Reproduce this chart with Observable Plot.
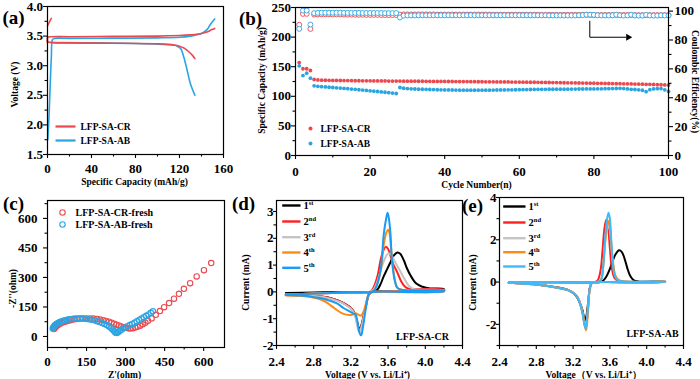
<!DOCTYPE html>
<html><head><meta charset="utf-8">
<script src="https://cdn.jsdelivr.net/npm/d3@7"></script>
<script src="https://cdn.jsdelivr.net/npm/@observablehq/plot@0.6"></script>
<style>
html,body{margin:0;padding:0;background:#fff;overflow:hidden;}
#fig{position:relative;width:700px;height:379px;background:#fff;}
#fig svg{position:absolute;left:0;top:0;}
</style></head><body><div id="fig"></div>
<script>
// ---------- DATA ----------
// (a) charge/discharge profiles
const crChargeCap = [0,0.3,4,20,60,100,120,130,136,140,145,149.5,152];
const crChargeV   = [3.38,3.48,3.49,3.49,3.495,3.50,3.51,3.52,3.53,3.545,3.57,3.61,3.63];
const crDischCap  = [0,0.5,4,20,60,100,110,115,120,124,127,130,132,134];
const crDischV    = [3.49,3.40,3.39,3.385,3.38,3.37,3.36,3.35,3.33,3.30,3.26,3.21,3.17,3.12];
const crTailCap   = [0,1.5,3.5];
const crTailV     = [3.67,3.73,3.80];
const abChargeCap = [0.3,1.5,2.5,3.5,4.5,6,20,60,100,120,130,136,140,145,148.5,152];
const abChargeV   = [1.75,2.2,2.7,3.15,3.44,3.46,3.462,3.465,3.47,3.48,3.50,3.525,3.545,3.61,3.71,3.79];
const abDischCap  = [0,2,10,40,80,100,110,115,118,121,124,127,130,134];
const abDischV    = [3.40,3.395,3.39,3.385,3.375,3.365,3.355,3.345,3.33,3.29,3.14,2.92,2.69,2.5];

// (b) cycling: capacity (mAh/g) and coulombic efficiency (%)
const cycles = d3.range(1, 101);
const capCR = [157,146.5,146.5,143.6,128.4,127.6,127.3,127.1,127.0,126.9,
126.8,126.7,126.6,126.5,126.4,126.3,126.3,126.2,126.1,126.1,
126.0,126.0,125.9,125.9,125.8,125.8,125.7,125.7,125.6,125.6,
125.5,125.5,125.4,125.4,125.3,125.3,125.2,125.2,125.1,125.1,
125.0,125.0,124.9,124.9,124.8,124.8,124.7,124.7,124.6,124.6,
124.5,124.5,124.4,124.3,124.3,124.2,124.2,124.1,124.0,124.0,
123.9,123.8,123.7,123.7,123.6,123.5,123.4,123.3,123.2,123.1,
123.0,122.9,122.8,122.7,122.6,122.5,122.4,122.3,122.2,122.1,
122.0,121.9,121.8,121.6,121.5,121.4,121.3,121.1,121.0,120.9,
120.7,120.6,120.5,120.3,120.2,120.0,119.7,119.5,119.2,119.0];
const capAB = [151.5,135,139,130.6,117.7,116.8,116.3,115.8,115.3,114.9,
114.4,113.9,113.3,112.8,112.2,111.7,111.1,110.5,110.0,109.3,
108.7,108.1,107.4,106.8,106.1,105.4,104.7,114.9,113.6,113.0,
112.6,112.3,112.1,111.9,111.7,111.5,111.3,111.1,110.9,110.8,
110.7,110.6,110.5,110.4,110.4,110.3,110.3,110.3,110.3,110.3,
110.3,110.4,110.5,110.6,110.7,110.8,110.9,111.0,111.1,111.2,
111.3,111.4,111.5,111.6,111.7,111.8,111.8,111.9,111.9,112.0,
112.0,112.1,112.1,112.2,112.2,112.3,112.3,112.4,112.4,112.5,
112.6,112.7,112.8,112.9,113.0,113.2,113.5,113.0,112.4,111.8,
111.5,111.0,110.2,107.8,111.2,112.4,112.9,113.0,111.0,108.2];
const ceCR = [90.5,98.1,98.1,87.7,97.6,97.7,97.8,97.8,97.8,97.7,
97.7,97.7,97.6,97.6,97.6,97.5,97.5,97.5,97.4,97.4,
97.4,97.4,97.3,97.3,97.3,97.3,97.3,97.6,97.7,97.7,
97.7,97.7,97.7,97.7,97.7,97.7,97.7,97.6,97.6,97.6,
97.6,97.6,97.6,97.6,97.6,97.6,97.6,97.6,97.6,97.6,
97.6,97.6,97.5,97.5,97.5,97.5,97.5,97.5,97.5,97.5,
97.5,97.5,97.5,97.5,97.5,97.4,97.4,97.4,97.4,97.4,
97.4,97.4,97.4,97.4,97.4,97.4,97.4,97.4,97.3,97.3,
97.3,97.3,97.3,97.3,97.3,97.3,97.3,97.3,97.3,97.3,
97.2,97.2,97.2,97.2,97.2,97.2,97.2,97.2,97.2,97.2];
const ceAB = [87.7,100.4,100.4,90.7,98.6,98.8,98.9,98.9,98.9,98.9,
98.9,98.9,98.8,98.8,98.8,98.8,98.8,98.7,98.7,98.7,
98.7,98.7,98.7,98.6,98.6,98.6,98.6,95.6,96.9,97.0,
97.0,97.0,97.1,97.1,97.1,97.1,97.1,97.1,97.1,97.1,
97.1,97.1,97.1,97.1,97.1,97.1,97.2,97.1,97.1,97.1,
97.1,97.1,97.1,97.1,97.1,97.1,97.1,97.1,97.1,97.1,
97.1,97.1,97.1,97.1,97.1,97.1,97.1,97.0,97.0,97.0,
97.0,97.0,97.0,97.0,97.0,97.1,97.2,97.5,97.5,97.4,
97.1,97.0,97.0,97.0,97.1,97.5,97.1,96.9,97.0,97.5,
97.0,96.9,96.9,97.4,97.0,96.9,96.9,97.1,97.0,97.0];
const arrowPath = [[78.9,93],[78.9,81.9],[88.6,81.9]];

// (c) Nyquist plots (ohm)
const crZre = [25,28,32,37,43,50,58,67,77,88,100,112,125,138,151,164,177,190,202,214,225,236,246,256,265,274,283,292,301,310,319,328,337,346,356,366,376,386,400,416,432,448,467,486,505,524,548,573,601,629];
const crZim = [38,44,50,56,61,66,71,75,79,83,86,89,91,92,92,92,91,89,86,83,79,75,70,65,60,56,51,47,44,42,41,42,45,49,55,62,70,80,92,110,129,149,170,192,217,242,271,305,337,373];
const abZre = [20,22,25,29,34,40,47,55,63,72,82,92,103,114,125,136,147,158,169,180,190,200,210,219,228,236,243,249,254,258,262,266,271,277,284,291,299,307,316,325,334,343,352,361,370,379,388,397,405];
const abZim = [40,46,52,58,63,68,73,77,81,84,87,89,91,92,92,91,90,88,85,82,78,74,69,64,58,51,44,37,30,24,19,18,22,28,34,40,46,52,58,64,70,77,84,91,98,105,112,120,128];

// (d) CV of LFP-SA-CR, [voltage V, current mA]
const cr1 = [[2.5,-0.04],[2.8,-0.02],[3.1,-0.01],[3.42,0],[3.48,0.07],[3.52,0.3],[3.55,0.56],[3.59,0.85],[3.62,1.07],[3.66,1.35],[3.7,1.47],[3.73,1.42],[3.77,1.17],[3.8,0.9],[3.84,0.62],[3.9,0.32],[3.96,0.2],[4.05,0.13],[4.2,0.1],
 [4.2,0.05],[3.8,0.03],[3.5,0.02],[3.43,0],[3.39,-0.12],[3.37,-0.4],[3.34,-0.85],[3.31,-1.28],[3.29,-1.4],[3.27,-1.15],[3.24,-0.8],[3.2,-0.6],[3.15,-0.48],[3.1,-0.38],[3.0,-0.25],[2.9,-0.18],[2.7,-0.13],[2.5,-0.12]];
const cr2 = [[2.5,-0.1],[2.8,-0.06],[3.1,-0.03],[3.4,0],[3.43,0.08],[3.46,0.3],[3.49,0.65],[3.52,1.2],[3.55,1.55],[3.575,1.68],[3.6,1.6],[3.63,1.3],[3.66,1.0],[3.7,0.72],[3.74,0.4],[3.78,0.2],[3.82,0.12],[3.9,0.1],[4.2,0.08],
 [4.2,0.03],[3.8,0.02],[3.5,0.01],[3.42,-0.02],[3.39,-0.12],[3.37,-0.4],[3.34,-0.85],[3.31,-1.3],[3.29,-1.45],[3.27,-1.2],[3.24,-0.8],[3.2,-0.6],[3.15,-0.48],[3.1,-0.38],[3.0,-0.25],[2.9,-0.18],[2.7,-0.13],[2.5,-0.12]];
const cr3 = [[2.5,-0.1],[2.8,-0.06],[3.1,-0.03],[3.4,0],[3.44,0.08],[3.48,0.35],[3.52,0.8],[3.56,1.2],[3.6,1.43],[3.63,1.4],[3.67,1.15],[3.71,0.9],[3.75,0.65],[3.79,0.4],[3.83,0.2],[3.88,0.1],[4.2,0.06],
 [4.2,0.03],[3.8,0.02],[3.5,0.01],[3.42,-0.02],[3.39,-0.12],[3.37,-0.4],[3.34,-0.9],[3.31,-1.35],[3.29,-1.5],[3.27,-1.3],[3.24,-0.85],[3.2,-0.62],[3.15,-0.5],[3.1,-0.4],[3.0,-0.27],[2.9,-0.19],[2.7,-0.14],[2.5,-0.12]];
const cr4 = [[2.5,-0.1],[2.8,-0.06],[3.1,-0.03],[3.42,0],[3.45,0.05],[3.48,0.25],[3.52,0.8],[3.555,1.8],[3.58,2.2],[3.6,2.32],[3.615,2.2],[3.63,1.7],[3.65,1.0],[3.675,0.4],[3.7,0.15],[3.75,0.08],[4.2,0.05],
 [4.2,0.02],[3.5,0.01],[3.42,-0.02],[3.38,-0.2],[3.36,-0.45],[3.34,-0.7],[3.31,-0.88],[3.28,-0.85],[3.25,-0.8],[3.22,-0.84],[3.18,-0.86],[3.12,-0.82],[3.08,-0.75],[3.04,-0.65],[3.0,-0.55],[2.95,-0.42],[2.9,-0.32],[2.84,-0.25],[2.75,-0.18],[2.6,-0.14],[2.5,-0.13]];
const cr5 = [[2.5,-0.1],[2.8,-0.06],[3.1,-0.03],[3.42,0],[3.45,0.05],[3.48,0.25],[3.52,0.85],[3.555,2.2],[3.58,2.75],[3.595,2.95],[3.61,2.7],[3.625,2.2],[3.64,1.25],[3.67,0.45],[3.7,0.15],[3.75,0.07],[4.2,0.05],
 [4.2,0.02],[3.5,0.01],[3.42,-0.01],[3.39,-0.1],[3.37,-0.4],[3.35,-0.85],[3.33,-1.3],[3.31,-1.62],[3.29,-1.5],[3.27,-1.1],[3.25,-0.85],[3.22,-0.8],[3.18,-0.72],[3.12,-0.6],[3.05,-0.43],[2.95,-0.3],[2.85,-0.22],[2.7,-0.14],[2.5,-0.12]];

// (e) CV of LFP-SA-AB
const ab1 = [[2.5,-0.02],[3.0,-0.01],[3.45,0],[3.52,0.05],[3.56,0.25],[3.6,0.62],[3.63,1.0],[3.66,1.3],[3.7,1.5],[3.73,1.42],[3.76,1.1],[3.79,0.65],[3.82,0.3],[3.86,0.08],[3.92,0.02],[4.2,0.02],
 [4.2,0.01],[3.5,0],[3.42,-0.02],[3.4,-0.06],[3.38,-0.3],[3.365,-0.9],[3.345,-1.6],[3.33,-1.8],[3.315,-1.6],[3.3,-1.3],[3.27,-0.95],[3.24,-0.7],[3.2,-0.52],[3.15,-0.38],[3.0,-0.23],[2.8,-0.11],[2.6,-0.05],[2.5,-0.03]];
const ab2 = [[2.5,-0.02],[3.0,-0.01],[3.44,0],[3.47,0.1],[3.5,0.6],[3.52,1.5],[3.54,2.5],[3.56,2.95],[3.58,2.6],[3.6,1.6],[3.62,0.7],[3.65,0.2],[3.7,0.04],[4.2,0.02],
 [4.2,0.01],[3.5,0],[3.42,-0.02],[3.4,-0.06],[3.38,-0.35],[3.365,-1.1],[3.345,-1.95],[3.335,-2.15],[3.32,-1.9],[3.305,-1.5],[3.28,-1.05],[3.25,-0.72],[3.22,-0.56],[3.15,-0.38],[3.0,-0.24],[2.8,-0.12],[2.6,-0.05],[2.5,-0.03]];
const ab3 = [[2.5,-0.02],[3.0,-0.01],[3.45,0],[3.49,0.05],[3.51,0.2],[3.53,0.85],[3.55,1.9],[3.57,2.5],[3.585,2.7],[3.6,2.45],[3.615,1.7],[3.635,0.85],[3.66,0.3],[3.7,0.08],[4.2,0.02],
 [4.2,0.01],[3.5,0],[3.42,-0.02],[3.4,-0.06],[3.38,-0.33],[3.365,-1.05],[3.345,-1.9],[3.335,-2.1],[3.32,-1.88],[3.305,-1.5],[3.28,-1.05],[3.25,-0.72],[3.22,-0.56],[3.15,-0.38],[3.0,-0.24],[2.8,-0.12],[2.6,-0.05],[2.5,-0.03]];
const ab4 = [[2.5,-0.02],[3.0,-0.01],[3.45,0],[3.49,0.05],[3.51,0.18],[3.53,0.9],[3.55,2.0],[3.57,2.65],[3.585,2.9],[3.6,2.65],[3.615,1.8],[3.635,0.9],[3.66,0.3],[3.7,0.08],[4.2,0.02],
 [4.2,0.01],[3.5,0],[3.42,-0.02],[3.4,-0.06],[3.38,-0.36],[3.365,-1.15],[3.35,-2.05],[3.34,-2.28],[3.325,-2.0],[3.31,-1.6],[3.28,-1.08],[3.25,-0.75],[3.22,-0.58],[3.15,-0.4],[3.0,-0.25],[2.8,-0.12],[2.6,-0.05],[2.5,-0.03]];
const ab5 = [[2.5,-0.02],[3.0,-0.01],[3.45,0],[3.49,0.05],[3.51,0.16],[3.53,0.9],[3.55,2.2],[3.57,3.0],[3.585,3.28],[3.6,3.0],[3.615,2.0],[3.63,0.95],[3.65,0.35],[3.68,0.1],[3.75,0.03],[4.2,0.02],
 [4.2,0.01],[3.5,0],[3.42,-0.02],[3.4,-0.06],[3.38,-0.35],[3.365,-1.1],[3.345,-2.0],[3.335,-2.2],[3.32,-1.95],[3.305,-1.55],[3.28,-1.1],[3.25,-0.75],[3.22,-0.58],[3.15,-0.39],[3.0,-0.25],[2.8,-0.12],[2.6,-0.05],[2.5,-0.03]];

const cycleLabels = [["1","st"],["2","nd"],["3","rd"],["4","th"],["5","th"]];
const cvColorsD = ["#000000","#ff1f1f","#c4c4c4","#ff8a12","#1a9cf5"];
const cvColorsE = ["#000000","#ff1f1f","#c4c4c4","#ff8a12","#3fb9f7"];
const RED = "#ea4a4f", BLUE = "#2aa5e2";

// ---------- LAYOUT HELPERS ----------
const W = 700, H = 379;
const SERIF = "'Liberation Serif','Times New Roman',serif";
const fig = document.getElementById("fig");

function plotPanel(fr, xd, yd, marks) {
  const [L, R, T, B] = fr;
  fig.appendChild(Plot.plot({
    width: W, height: H,
    marginLeft: L, marginRight: W - R, marginTop: T, marginBottom: H - B,
    x: {domain: xd}, y: {domain: yd},
    style: {background: "transparent", fontFamily: SERIF, fontWeight: "bold", color: "black", overflow: "visible"},
    marks
  }));
}
const fmt = d => String(d);
function axes(o) {
  const c = {fontSize: 13, fontWeight: "bold", label: null, strokeWidth: 1.1};
  return [
    Plot.axisX(o.x, {...c, anchor: "bottom", tickSize: 4, tickPadding: o.xPad, tickFormat: o.xFmt || fmt}),
    Plot.axisX(o.xMinor, {...c, anchor: "bottom", tickSize: 2.5, tickFormat: () => ""}),
    Plot.axisY(o.y, {...c, anchor: "left", tickSize: o.ySize ?? 4, tickPadding: o.yPad, tickFormat: o.yFmt || fmt}),
    Plot.axisY(o.yMinor, {...c, anchor: "left", tickSize: 2.5, tickFormat: () => ""}),
    Plot.frame({strokeWidth: 1.2})
  ];
}
function txt(fr, str, px, py, o = {}) {
  return Plot.text([str], {text: d => d, frameAnchor: "top-left", dx: px - fr[0], dy: py - fr[2],
    fontSize: 9.5, fontWeight: "bold", fill: "black", lineAnchor: "middle", textAnchor: "middle", ...o});
}
function swatch(fr, x1, x2, y, color, h = 2.2) {
  const [L, R, T, B] = fr;
  return Plot.frame({fill: color, stroke: "none", insetLeft: x1 - L, insetRight: R - x2, insetTop: y - h / 2 - T, insetBottom: B - (y + h / 2)});
}
function ldot(fr, px, py, o) {
  return Plot.dot([0], {frameAnchor: "top-left", dx: px - fr[0], dy: py - fr[2], ...o});
}
const panelLabel = (fr, s, px, py) => txt(fr, s, px, py, {fontSize: 19});

// ---------- (a) ----------
const frA = [47, 223, 6, 154];
const lineA = (cap, v, color) => Plot.line(cap, {x: d => d, y: (d, i) => v[i], stroke: color, strokeWidth: 1.6, curve: "catmull-rom"});
plotPanel(frA, [0, 160], [1.5, 4.0], [
  lineA(abDischCap, abDischV, BLUE),
  lineA(abChargeCap, abChargeV, BLUE),
  lineA(crDischCap, crDischV, RED),
  lineA(crChargeCap, crChargeV, RED),
  lineA(crTailCap, crTailV, RED),
  ...axes({x: [0,40,80,120,160], xMinor: [20,60,100,140], xPad: 5.5,
           y: [1.5,2,2.5,3,3.5,4], yMinor: [1.75,2.25,2.75,3.25,3.75], yPad: 0.5, yFmt: d => d.toFixed(1)}),
  swatch(frA, 55, 75, 126, RED), swatch(frA, 55, 75, 140, BLUE),
  txt(frA, "LFP-SA-CR", 80, 126, {textAnchor: "start"}),
  txt(frA, "LFP-SA-AB", 80, 140, {textAnchor: "start"}),
  txt(frA, "Voltage (V)", 14, 84, {rotate: -90}),
  txt(frA, "Specific Capacity (mAh/g)", 134, 181),
  panelLabel(frA, "(a)", 13, 17)
]);

// ---------- (b) ----------
const frB = [295, 668, 7, 155];
const CE_K = 243.9 / 100; // right-axis % -> left-axis units
plotPanel(frB, [0, 100], [0, 250], [
  Plot.dot(cycles, {x: d => d, y: (d, i) => ceCR[i] * CE_K, r: 2.5, stroke: RED, strokeWidth: 0.9, fill: "white"}),
  Plot.dot(cycles, {x: d => d, y: (d, i) => ceAB[i] * CE_K, r: 2.5, stroke: BLUE, strokeWidth: 0.9, fill: "white"}),
  Plot.dot(cycles, {x: d => d, y: (d, i) => capCR[i], r: 1.9, fill: RED}),
  Plot.dot(cycles, {x: d => d, y: (d, i) => capAB[i], r: 1.9, fill: BLUE}),
  Plot.line(arrowPath, {x: d => d[0], y: d => d[1] * CE_K, stroke: "black", strokeWidth: 1}),
  Plot.dot([arrowPath[2]], {x: d => d[0] + 0.6, y: d => d[1] * CE_K, symbol: "triangle", rotate: 90, r: 2.6, fill: "black"}),
  ...axes({x: [0,20,40,60,80,100], xMinor: [10,30,50,70,90], xPad: 7.5,
           y: [0,50,100,150,200,250], yMinor: [25,75,125,175,225], yPad: 0.5}),
  Plot.axisY([0,20,40,60,80,100].map(d => d * CE_K), {anchor: "right", tickSize: 4, tickPadding: 2, fontSize: 13, fontWeight: "bold", label: null, strokeWidth: 1.1, tickFormat: d => String(Math.round(d / CE_K))}),
  Plot.axisY([10,30,50,70,90].map(d => d * CE_K), {anchor: "right", tickSize: 2.5, label: null, strokeWidth: 1.1, tickFormat: () => ""}),
  ldot(frB, 310, 128, {r: 2, fill: RED}), ldot(frB, 310, 143, {r: 2, fill: BLUE}),
  txt(frB, "LFP-SA-CR", 320, 128, {textAnchor: "start"}),
  txt(frB, "LFP-SA-AB", 320, 143, {textAnchor: "start"}),
  txt(frB, "Specific Capacity (mAh/g)", 261, 80, {rotate: -90}),
  txt(frB, "Coulombic Efficiency(%)", 695, 81, {rotate: 90}),
  txt(frB, "Cycle Number(n)", 476, 184),
  panelLabel(frB, "(b)", 250, 18)
]);

// ---------- (c) ----------
const frC = [47, 224, 200, 347];
plotPanel(frC, [0, 680], [-56, 691], [
  Plot.dot(crZre, {x: d => d, y: (d, i) => crZim[i], r: 2.7, stroke: RED, strokeWidth: 1.1, fill: "none"}),
  Plot.dot(abZre, {x: d => d, y: (d, i) => abZim[i], r: 2.7, stroke: BLUE, strokeWidth: 1.1, fill: "none"}),
  ...axes({x: [0,150,300,450,600], xMinor: [75,225,375,525], xPad: 5.5,
           y: [0,150,300,450,600], yMinor: [75,225,375,525,675], yPad: 6}),
  ldot(frC, 62, 212, {r: 2.7, stroke: RED, strokeWidth: 1.1, fill: "none"}),
  ldot(frC, 62, 224, {r: 2.7, stroke: BLUE, strokeWidth: 1.1, fill: "none"}),
  txt(frC, "LFP-SA-CR-fresh", 75, 212, {textAnchor: "start", fontSize: 10}),
  txt(frC, "LFP-SA-AB-fresh", 75, 224, {textAnchor: "start", fontSize: 10}),
  txt(frC, "-Z''(ohm)", 12, 288, {rotate: -90}),
  txt(frC, "Z'(ohm)", 124, 374.5),
  panelLabel(frC, "(c)", 13, 203)
]);

// ---------- (d) & (e) ----------
function cvPanel(fr, yd, curves, colors, o) {
  const marks = curves.map((c, k) => Plot.line(c, {x: d => d[0], y: d => d[1], stroke: colors[k], strokeWidth: 2, curve: "catmull-rom"}));
  const leg = [];
  cycleLabels.forEach((lab, k) => {
    const y = o.legY[k];
    leg.push(swatch(fr, o.legX1, o.legX2, y, colors[k], 2.4));
    leg.push(txt(fr, lab[0], o.legX2 + 3, y + 0.5, {textAnchor: "start", fontSize: 10.5}));
    leg.push(txt(fr, lab[1], o.legX2 + 8.3, y - 2.5, {textAnchor: "start", fontSize: 6.5}));
  });
  plotPanel(fr, [2.4, 4.4], yd, [
    ...marks,
    ...axes({x: [2.4,2.8,3.2,3.6,4.0,4.4], xMinor: [2.6,3.0,3.4,3.8,4.2], xPad: 7.5, xFmt: d => d.toFixed(1),
             y: o.yTicks, yMinor: o.yMinor, yPad: 0, ySize: 3}),
    ...leg,
    txt(fr, o.name, o.nameX, o.nameY, {fontSize: 10}),
    txt(fr, "Current (mA)", o.yLabX, 282, {rotate: -90}),
    txt(fr, o.xLabel, o.xLabX, 374.5),
    panelLabel(fr, o.panel, o.pX, o.pY)
  ]);
}
cvPanel([276, 462, 200, 345], [-2, 3.41], [cr1, cr2, cr3, cr4, cr5], cvColorsD, {
  legX1: 281.7, legX2: 300, legY: [205, 221, 236.7, 252, 267.3],
  yTicks: [-2,-1,0,1,2,3], yMinor: [-1.5,-0.5,0.5,1.5,2.5],
  name: "LFP-SA-CR", nameX: 422, nameY: 336, yLabX: 245,
  xLabel: "Voltage (V vs. Li/Li\u207A)", xLabX: 367, panel: "(d)", pX: 243, pY: 203
});
cvPanel([499, 683, 197, 345], [-3, 4], [ab1, ab2, ab3, ab4, ab5], cvColorsE, {
  legX1: 502.7, legX2: 525, legY: [206, 222, 237.7, 251.7, 266],
  yTicks: [-2,0,2,4], yMinor: [-3,-1,1,3],
  name: "LFP-SA-AB", nameX: 652, nameY: 333, yLabX: 472,
  xLabel: "Voltage\uFF08V vs. Li/Li\u207A\uFF09", xLabX: 593, panel: "(e)", pX: 472, pY: 205
});
</script></body></html>
